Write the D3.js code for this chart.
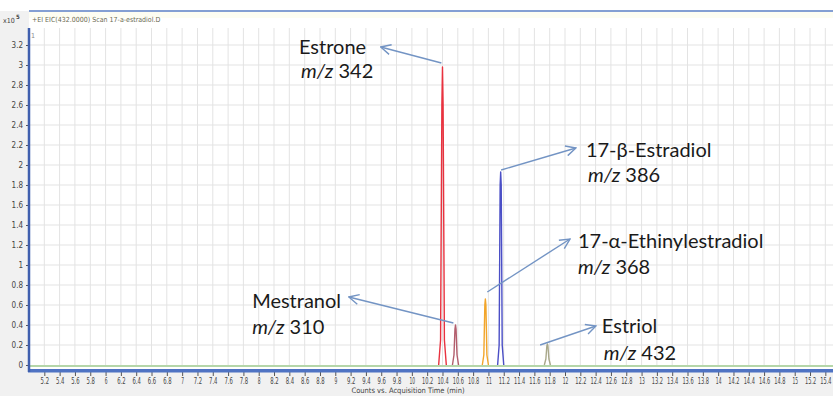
<!DOCTYPE html>
<html>
<head>
<meta charset="utf-8">
<script src="https://cdn.jsdelivr.net/npm/d3@7"></script>
<style>
  html, body { margin: 0; padding: 0; background: #f1f1f1; }
  svg { display: block; }
</style>
</head>
<body>
<svg id="chart" width="833" height="396"></svg>
<script>
// ---- data ----
const x_ticks = d3.range(52, 155, 2).map(d => d / 10);
const y_ticks = d3.range(0, 33, 2).map(d => d / 10);

const compounds = ["Estrone", "Mestranol", "17-α-Ethinylestradiol", "17-β-Estradiol", "Estriol"];
const mz_values = ["342", "310", "368", "386", "432"];
const peak_colors = ["#e8323f", "#b25d6c", "#f2a52a", "#4b4fc6", "#a9a88a"];

// peak outlines, [time (min), counts x10^5]
const peak_estrone = [[10.35, 0], [10.375, 0.25], [10.392, 2.6], [10.40, 2.98], [10.408, 2.6], [10.425, 0.25], [10.45, 0]];
const peak_mestranol = [[10.53, 0], [10.55, 0.1], [10.563, 0.36], [10.57, 0.40], [10.577, 0.36], [10.59, 0.1], [10.61, 0]];
const peak_ethinyl = [[10.92, 0], [10.94, 0.1], [10.953, 0.6], [10.96, 0.66], [10.967, 0.6], [10.98, 0.1], [11.0, 0]];
const peak_beta = [[11.12, 0], [11.14, 0.2], [11.153, 1.8], [11.16, 1.93], [11.167, 1.8], [11.18, 0.2], [11.20, 0]];
const peak_estriol = [[11.73, 0], [11.75, 0.06], [11.763, 0.19], [11.77, 0.21], [11.777, 0.19], [11.79, 0.06], [11.81, 0]];
const peaks = [peak_estrone, peak_mestranol, peak_ethinyl, peak_beta, peak_estriol];

// annotation arrows: from [t, v] near peak to [t, v] tip
const arrow_from = [[10.386, 3.02], [10.543, 0.42], [10.985, 0.73], [11.165, 1.95], [11.675, 0.20]];
const arrow_to = [[9.593, 3.18], [9.176, 0.68], [12.065, 1.26], [12.143, 2.17], [12.404, 0.39]];
const label_pos = [[8.526, 3.11], [7.914, 0.57], [12.169, 1.17], [12.273, 2.08], [12.481, 0.32]];
const mz_pos = [[8.552, 2.87], [7.914, 0.31], [12.169, 0.91], [12.299, 1.83], [12.507, 0.05]];

// ---- layout ----
const svg = d3.select("#chart");
const w = 833, h = 396;
const left = 29, frame_top = 11, plot_top = 28, base = 365, axis_y = 370;

const x = d3.scaleLinear().domain([5.0, 15.5]).range([left, w]);
const y = d3.scaleLinear().domain([0, 3.2]).range([base, 45]);

// backgrounds
svg.append("rect").attr("x", 0).attr("y", 0).attr("width", w).attr("height", frame_top).style("fill", "#ffffff");
svg.append("rect").attr("x", left).attr("y", frame_top).attr("width", w - left).attr("height", axis_y - frame_top).style("fill", "#ffffff");
svg.append("rect").attr("x", left).attr("y", frame_top + 1).attr("width", w - left).attr("height", 6).style("fill", "#fdfdf2");

// grid
svg.append("g").selectAll("line").data(x_ticks).enter().append("line")
    .attr("x1", d => x(d).toFixed(1)).attr("x2", d => x(d).toFixed(1))
    .attr("y1", plot_top).attr("y2", base)
    .style("stroke", "#e3e3e3").style("stroke-width", 1);

svg.append("g").selectAll("line").data(y_ticks.filter(d => d > 0)).enter().append("line")
    .attr("x1", left).attr("x2", w)
    .attr("y1", d => y(d).toFixed(1)).attr("y2", d => y(d).toFixed(1))
    .style("stroke", "#e3e3e3").style("stroke-width", 1);

// top frame line
svg.append("line").attr("x1", left).attr("x2", w).attr("y1", frame_top).attr("y2", frame_top)
    .style("stroke", "#5b7fc4").style("stroke-width", 1.5);

// title texts
const small_font = "DejaVu Sans Condensed, Liberation Sans, sans-serif";
svg.append("text").attr("x", 32).attr("y", 22).text("+EI EIC(432.0000) Scan 17-a-estradiol.D")
    .style("font-family", small_font).style("font-size", "7px").style("fill", "#6a6a50");
svg.append("text").attr("x", 3).attr("y", 23).text("x10")
    .style("font-family", small_font).style("font-size", "7px").style("fill", "#444");
svg.append("text").attr("x", 16).attr("y", 19).text("5")
    .style("font-family", small_font).style("font-size", "6px").style("font-weight", "bold").style("fill", "#444");
svg.append("text").attr("x", 31).attr("y", 38).text("1")
    .style("font-family", small_font).style("font-size", "7px").style("fill", "#888");

// baseline (green)
svg.append("line").attr("x1", left).attr("x2", w).attr("y1", base + 1).attr("y2", base + 1)
    .style("stroke", "#9cc88c").style("stroke-width", 1.5);

// peaks
const line = d3.line().x(d => x(d[0])).y(d => y(d[1]));
svg.append("g").selectAll("path").data(peaks).enter().append("path")
    .attr("d", d => line(d))
    .style("fill", "none")
    .style("stroke", (d, i) => peak_colors[i])
    .style("stroke-width", 1.4)
    .style("stroke-linejoin", "round");

// axes
const axis_x = d3.axisBottom(x).tickValues(x_ticks).tickSize(4).tickFormat(d => d3.format("")(d));
const gx = svg.append("g").attr("transform", `translate(0, ${axis_y + 2})`).call(axis_x);
gx.select(".domain").remove();
gx.selectAll(".tick line").style("stroke", "#555");
gx.selectAll(".tick text").attr("y", 6)
    .attr("textLength", d => d3.format("")(d).length * 2.8)
    .attr("lengthAdjust", "spacingAndGlyphs")
    .style("font-family", small_font).style("font-size", "8px").style("fill", "#444");

svg.append("rect").attr("x", left - 1).attr("y", axis_y - 1).attr("width", w - left + 1).attr("height", 3.5).style("fill", "#4f73c3");

const axis_y_gen = d3.axisLeft(y).tickValues(y_ticks).tickSize(3).tickFormat(d => d3.format("")(d));
const gy = svg.append("g").attr("transform", `translate(${left}, 0)`).call(axis_y_gen);
gy.select(".domain").remove();
gy.selectAll(".tick line").style("stroke", "#555");
gy.selectAll(".tick text")
    .style("font-family", small_font).style("font-size", "8px").style("fill", "#444");

svg.append("line").attr("x1", left).attr("x2", left).attr("y1", plot_top).attr("y2", axis_y + 2)
    .style("stroke", "#3f5fae").style("stroke-width", 2.5);

svg.append("text").attr("x", x(9.95)).attr("y", 393).attr("text-anchor", "middle")
    .text("Counts vs. Acquisition Time (min)")
    .style("font-family", small_font).style("font-size", "7.5px").style("fill", "#444");

// annotations
const defs = svg.append("defs");
defs.append("marker").attr("id", "arrow").attr("viewBox", "0 0 12 12").attr("refX", 11).attr("refY", 6)
    .attr("markerWidth", 12).attr("markerHeight", 12).attr("markerUnits", "userSpaceOnUse").attr("orient", "auto")
    .append("path").attr("d", "M1,1 L11,6 L1,11")
    .style("fill", "none").style("stroke", "#7394c4").style("stroke-width", 1.4);

svg.append("g").selectAll("line").data(arrow_from).enter().append("line")
    .attr("x1", d => x(d[0]).toFixed(1)).attr("y1", d => y(d[1]).toFixed(1))
    .attr("x2", (d, i) => x(arrow_to[i][0]).toFixed(1)).attr("y2", (d, i) => y(arrow_to[i][1]).toFixed(1))
    .style("stroke", "#7394c4").style("stroke-width", 1.4)
    .attr("marker-end", "url(#arrow)");

const font = "Lato, Open Sans, sans-serif";
svg.append("g").selectAll("text").data(compounds).enter().append("text")
    .attr("x", (d, i) => x(label_pos[i][0])).attr("y", (d, i) => y(label_pos[i][1]))
    .text(d => d)
    .style("font-family", font).style("font-size", "20px").style("fill", "#1a1a1a");

const mz_text = svg.append("g").selectAll("text").data(mz_values).enter().append("text")
    .attr("x", (d, i) => x(mz_pos[i][0])).attr("y", (d, i) => y(mz_pos[i][1]))
    .style("font-family", font).style("font-size", "20px").style("fill", "#1a1a1a");
mz_text.append("tspan").style("font-style", "italic").text("m/z");
mz_text.append("tspan").text(d => " " + d);
</script>
</body>
</html>
